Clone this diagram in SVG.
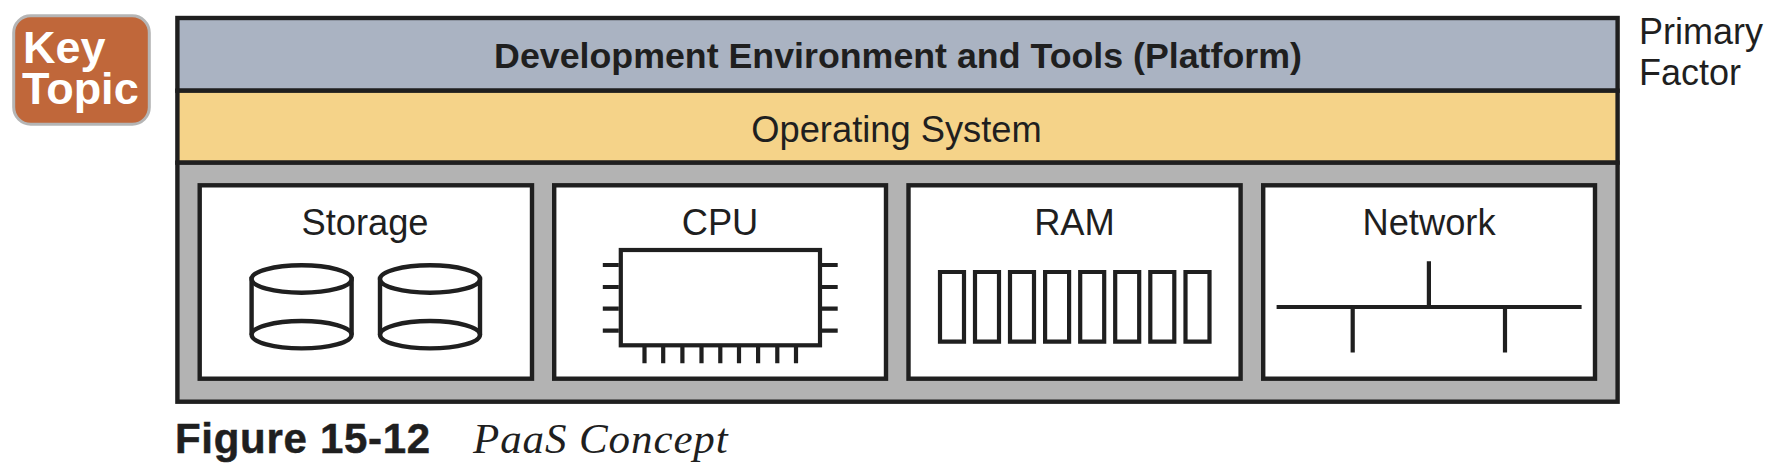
<svg xmlns="http://www.w3.org/2000/svg" width="1774" height="476" viewBox="0 0 1774 476">
<style>
text{font-family:"Liberation Sans",Arial,sans-serif;fill:#1f1f1f}
.lbl{font-size:36.3px;text-anchor:middle}
.box{fill:#fff;stroke:#1f1f1f;stroke-width:4.4}
.layer{stroke:#1f1f1f;stroke-width:4.4}
.ln{fill:none;stroke:#1f1f1f;stroke-width:4.2}
.cyl{fill:#fff;stroke:#1f1f1f;stroke-width:4.4}
</style>
<defs>
<g id="cyl">
<path class="cyl" d="M-50 0V55.7A50 13.7 0 0 0 50 55.7V0Z"/>
<ellipse class="cyl" cx="0" cy="0" rx="50" ry="13.7"/>
<path class="cyl" style="fill:none" d="M-50 55.7A50 13.7 0 0 1 50 55.7"/>
</g>
</defs>
<rect width="1774" height="476" fill="#fff"/>
<g id="key-topic">
<rect x="13.7" y="15.8" width="135.6" height="108.4" rx="17" fill="#c0673a" stroke="#b5b5b5" stroke-width="3"/>
<text x="23" y="63.3" font-size="45" font-weight="700" style="fill:#fff">Key</text>
<text x="22" y="104.3" font-size="45" font-weight="700" style="fill:#fff">Topic</text>
</g>
<g id="layer-platform">
<rect class="layer" x="177.4" y="18" width="1440.2" height="72.7" fill="#aab3c2"/>
<text x="898" y="68" font-size="35.75" font-weight="700" text-anchor="middle">Development Environment and Tools (Platform)</text>
</g>
<g id="layer-os">
<rect class="layer" x="177.4" y="90.7" width="1440.2" height="72" fill="#f5d389"/>
<text class="lbl" x="896.5" y="141.5">Operating System</text>
</g>
<g id="layer-infrastructure">
<rect class="layer" x="177.4" y="162.7" width="1440.2" height="239" fill="#b3b3b3"/>
</g>
<g id="storage">
<rect class="box" x="199.7" y="185.3" width="332.3" height="193.4"/>
<text class="lbl" x="365" y="235">Storage</text>
<use href="#cyl" x="301.6" y="279"/>
<use href="#cyl" x="430" y="279"/>
</g>
<g id="cpu">
<rect class="box" x="554.2" y="185.3" width="331.8" height="193.4"/>
<text class="lbl" x="720" y="235">CPU</text>
<rect class="ln" x="620.8" y="250" width="199.2" height="95.3"/>
<path class="ln" d="M602.8 265H618.8M602.8 287H618.8M602.8 308.7H618.8M602.8 330.7H618.8M822 265H837.7M822 287H837.7M822 308.7H837.7M822 330.7H837.7M644.5 347V363.3M663.2 347V363.3M682.4 347V363.3M701.5 347V363.3M720.3 347V363.3M739 347V363.3M758.1 347V363.3M777.3 347V363.3M796 347V363.3"/>
</g>
<g id="ram">
<rect class="box" x="908.5" y="185.3" width="332.1" height="193.4"/>
<text class="lbl" x="1074.5" y="235">RAM</text>
<path class="ln" d="M940 272H964V341.7H940ZM975 272H999V341.7H975ZM1010 272H1034V341.7H1010ZM1045.1 272H1069.1V341.7H1045.1ZM1080.2 272H1104.2V341.7H1080.2ZM1115.2 272H1139.2V341.7H1115.2ZM1150.3 272H1174.3V341.7H1150.3ZM1185.5 272H1209.5V341.7H1185.5Z"/>
</g>
<g id="network">
<rect class="box" x="1263.2" y="185.3" width="331.8" height="193.4"/>
<text class="lbl" x="1429" y="235">Network</text>
<path class="ln" d="M1276.6 307H1581.6M1428.9 261.3V307M1352.7 307V352.6M1505 307V352.6"/>
</g>
<g id="primary-factor">
<text x="1639" y="43.6" font-size="36">Primary</text>
<text x="1639" y="84.6" font-size="36">Factor</text>
</g>
<g id="caption">
<text x="175" y="453.3" font-size="42" font-weight="700" letter-spacing="0.7" stroke="#1f1f1f" stroke-width="0.5">Figure 15-12</text>
<text x="473" y="453.3" font-size="43" letter-spacing="0.9" font-style="italic" style="font-family:'Liberation Serif',serif">PaaS Concept</text>
</g>
</svg>
